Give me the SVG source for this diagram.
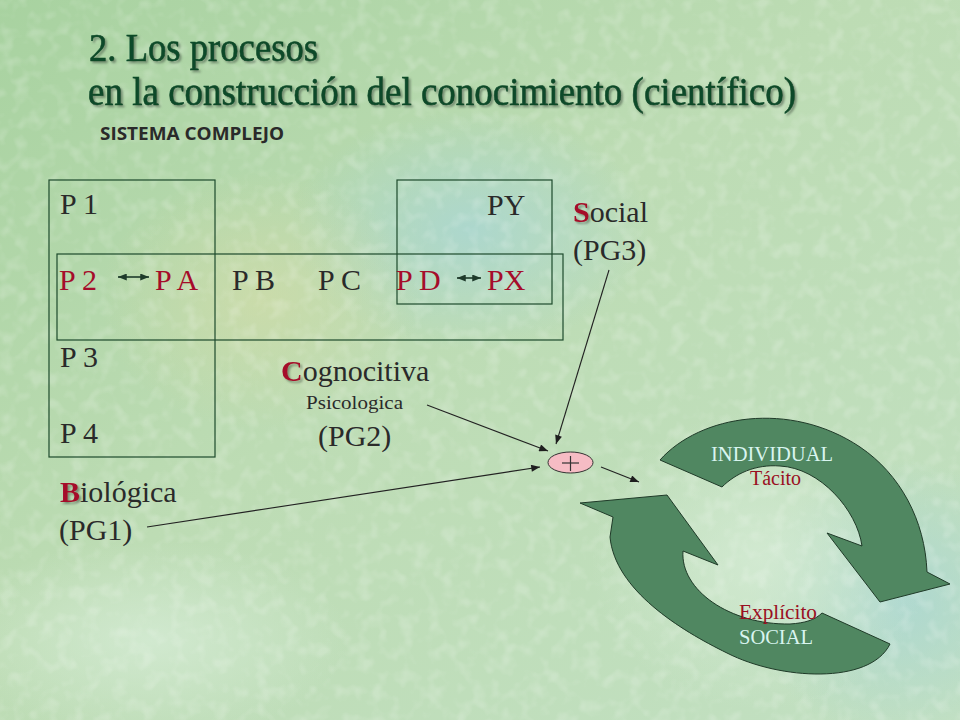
<svg xmlns="http://www.w3.org/2000/svg" width="960" height="720" viewBox="0 0 960 720">
  <defs>
    <linearGradient id="bg" x1="0" y1="0" x2="1" y2="1">
      <stop offset="0" stop-color="#a8d2a0"/>
      <stop offset="0.45" stop-color="#bddcb4"/>
      <stop offset="1" stop-color="#c2e0c2"/>
    </linearGradient>
    <radialGradient id="blue1" cx="0.5" cy="0.5" r="0.5">
      <stop offset="0" stop-color="#a9d6d4" stop-opacity="0.8"/>
      <stop offset="1" stop-color="#a9d6d4" stop-opacity="0"/>
    </radialGradient>
    <radialGradient id="yel1" cx="0.5" cy="0.5" r="0.5">
      <stop offset="0" stop-color="#d2dca8" stop-opacity="0.7"/>
      <stop offset="1" stop-color="#d2dca8" stop-opacity="0"/>
    </radialGradient>
    <radialGradient id="lite" cx="0.5" cy="0.5" r="0.5">
      <stop offset="0" stop-color="#d6ecd6" stop-opacity="0.8"/>
      <stop offset="1" stop-color="#d6ecd6" stop-opacity="0"/>
    </radialGradient>
    <filter id="tex" x="0" y="0" width="100%" height="100%">
      <feTurbulence type="fractalNoise" baseFrequency="0.07" numOctaves="2" seed="5" result="n"/>
      <feColorMatrix type="matrix" values="0 0 0 0 1  0 0 0 0 1  0 0 0 0 1  0 0 0 -3 1.6" in="n"/>
    </filter>
    <filter id="shadow" x="-5%" y="-20%" width="110%" height="150%">
      <feDropShadow dx="2" dy="2" stdDeviation="0.8" flood-color="#4a5a4a" flood-opacity="0.6"/>
    </filter>
    <marker id="ah" viewBox="0 0 10 8" refX="10" refY="4" markerWidth="10" markerHeight="7" markerUnits="userSpaceOnUse" orient="auto-start-reverse">
      <path d="M0,0 L10,4 L0,8 z" fill="#1e1e1e"/>
    </marker>
    <marker id="ahs" viewBox="0 0 10 8" refX="10" refY="4" markerWidth="9" markerHeight="7" markerUnits="userSpaceOnUse" orient="auto-start-reverse">
      <path d="M0,0 L10,4 L0,8 z" fill="#1e3a2a"/>
    </marker>
    <style>
      .serif { font-family: "Liberation Serif", "Times New Roman", serif; }
      .lbl { font-family: "Liberation Serif", "Times New Roman", serif; font-size: 30px; fill: #2a2a2a; }
      .red { fill: #a50c2a; }
      .init { fill: #a50c2a; font-weight: bold; filter: url(#shadow); }
      .box { fill: none; stroke: #1d4a2c; stroke-width: 1.2; }
      .conn { stroke: #222; stroke-width: 1.1; fill: none; }
      .dbl { stroke: #1e3a2a; stroke-width: 1.6; fill: none; }
      .cyc { fill: #508761; stroke: #1f3a28; stroke-width: 1; }
      .cyan { fill: #d9f5f0; font-family: "Liberation Serif", "Times New Roman", serif; font-size: 20px; }
      .redsm { fill: #9a0f22; font-family: "Liberation Serif", "Times New Roman", serif; font-size: 20px; }
      .ttl { font-family: "Liberation Serif", "Times New Roman", serif; font-size: 40px; fill: #0c4a29; stroke: #0c4a29; stroke-width: 0.6; }
    </style>
  </defs>

  <g id="background">
    <rect x="0" y="0" width="960" height="720" fill="url(#bg)"/>
    <ellipse cx="470" cy="230" rx="180" ry="120" fill="url(#blue1)"/>
    <ellipse cx="900" cy="600" rx="150" ry="140" fill="url(#blue1)"/>
    <ellipse cx="260" cy="300" rx="160" ry="130" fill="url(#yel1)"/>
    <ellipse cx="760" cy="560" rx="170" ry="150" fill="url(#lite)"/>
    <ellipse cx="150" cy="640" rx="200" ry="100" fill="url(#lite)"/>
    <rect x="0" y="0" width="960" height="720" filter="url(#tex)" opacity="0.18"/>
  </g>

  <g id="title" filter="url(#shadow)">
    <text class="ttl" x="89" y="61" textLength="229" lengthAdjust="spacingAndGlyphs">2. Los procesos</text>
    <text class="ttl" x="88" y="105" textLength="708" lengthAdjust="spacingAndGlyphs">en la construcción del conocimiento (científico)</text>
  </g>
  <g id="subtitle">
    <text x="100" y="140" font-family="'Open Sans', 'Liberation Sans', sans-serif" font-weight="700" font-size="18" fill="#2a2a2a" textLength="184" lengthAdjust="spacingAndGlyphs">SISTEMA COMPLEJO</text>
  </g>

  <g id="boxes">
    <rect id="box-vertical" class="box" x="49" y="180" width="166" height="277"/>
    <rect id="box-horizontal" class="box" x="57" y="254" width="506" height="86"/>
    <rect id="box-py" class="box" x="397" y="180" width="155" height="124"/>
  </g>

  <g id="node-p1"><text class="lbl" x="60" y="214">P 1</text></g>
  <g id="node-py"><text class="lbl" x="487" y="215">PY</text></g>
  <g id="node-p2"><text class="lbl red" x="59" y="290">P 2</text></g>
  <g id="node-pa"><text class="lbl red" x="155" y="290">P A</text></g>
  <g id="node-pb"><text class="lbl" x="232" y="290">P B</text></g>
  <g id="node-pc"><text class="lbl" x="318" y="290">P C</text></g>
  <g id="node-pd"><text class="lbl red" x="396" y="290">P D</text></g>
  <g id="node-px"><text class="lbl red" x="487" y="290">PX</text></g>
  <g id="node-p3"><text class="lbl" x="60" y="367">P 3</text></g>
  <g id="node-p4"><text class="lbl" x="60" y="443">P 4</text></g>

  <g id="node-social">
    <text class="lbl" x="573" y="222"><tspan class="init">S</tspan>ocial</text>
    <text class="lbl" x="573" y="260">(PG3)</text>
  </g>
  <g id="node-cognocitiva">
    <text class="lbl" x="281" y="381"><tspan class="init">C</tspan>ognocitiva</text>
    <text class="serif" x="306" y="409" font-size="18" fill="#2a2a2a" textLength="97" lengthAdjust="spacingAndGlyphs">Psicologica</text>
    <text class="lbl" x="318" y="446">(PG2)</text>
  </g>
  <g id="node-biologica">
    <text class="lbl" x="60" y="502"><tspan class="init">B</tspan>iológica</text>
    <text class="lbl" x="59" y="540">(PG1)</text>
  </g>

  <g id="node-plus">
    <ellipse cx="570.5" cy="462.5" rx="22.5" ry="10.5" fill="#f6bcc4" stroke="#333" stroke-width="1"/>
    <line x1="562" y1="463" x2="579" y2="463" stroke="#333" stroke-width="1.2"/>
    <line x1="570.5" y1="456" x2="570.5" y2="471" stroke="#333" stroke-width="1.2"/>
  </g>

  <g id="node-cycle">
    <path class="cyc" d="M660,460 C700,415 790,400 860,447 C900,474 925,520 927,572 L950,584 L880,602 L827,533 L862,546 C857,510 820,468 780,466 C755,464 735,474 722,487 Z"/>
    <path class="cyc" d="M890,644 C870,685 780,680 727,653 C680,630 615,590 610,537 L613,517 L580,503 L667,495 L718,565 L683,551 C680,590 730,625 790,624 C805,623 815,620 822,613 Z"/>
    <text class="cyan" x="711" y="461" textLength="122" lengthAdjust="spacingAndGlyphs">INDIVIDUAL</text>
    <text class="redsm" x="750" y="485">Tácito</text>
    <text class="redsm" x="739" y="619" textLength="78" lengthAdjust="spacingAndGlyphs">Explícito</text>
    <text class="cyan" x="739" y="644" textLength="74" lengthAdjust="spacingAndGlyphs">SOCIAL</text>
  </g>

  <g id="connectors">
    <line class="dbl" x1="118" y1="277" x2="149" y2="277" marker-start="url(#ahs)" marker-end="url(#ahs)"/>
    <line class="dbl" x1="457" y1="278" x2="481" y2="278" marker-start="url(#ahs)" marker-end="url(#ahs)"/>
    <line class="conn" x1="147" y1="527" x2="540" y2="467" marker-end="url(#ah)"/>
    <line class="conn" x1="427" y1="405" x2="548" y2="451" marker-end="url(#ah)"/>
    <line class="conn" x1="609" y1="270" x2="556" y2="444" marker-end="url(#ah)"/>
    <line class="conn" x1="601" y1="467" x2="639" y2="482" marker-end="url(#ah)"/>
  </g>
</svg>
